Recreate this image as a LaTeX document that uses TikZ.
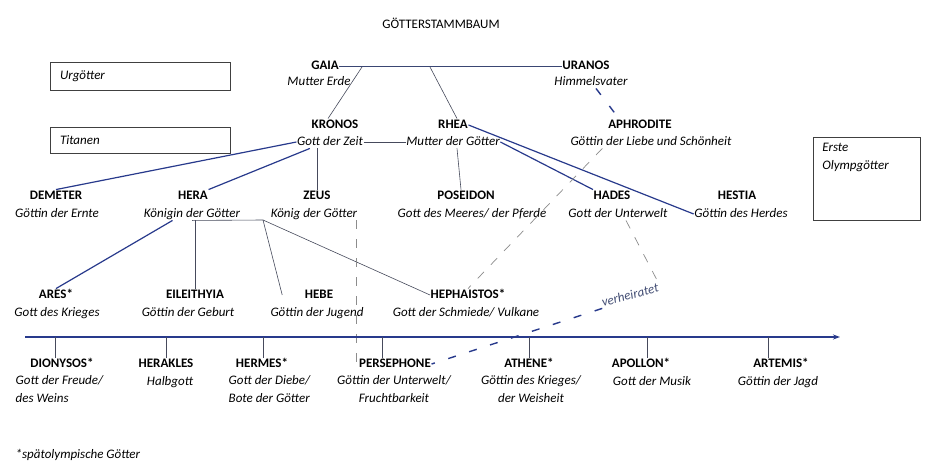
\documentclass[tikz,border=0pt]{standalone}
\usepackage{fontspec}
\setmainfont{Carlito}
\usetikzlibrary{calc,arrows.meta}
\definecolor{ink}{RGB}{40,58,140}
\definecolor{pencil}{RGB}{70,74,92}
\definecolor{penblue}{RGB}{58,70,115}
\begin{document}
\begin{tikzpicture}[x=1pt,y=-1pt,
  nm/.style={font=\fontsize{13}{18}\selectfont\bfseries, inner sep=0.5pt, text height=9pt, text depth=2.5pt},
  ds/.style={font=\fontsize{13}{18}\selectfont\itshape, inner sep=0.5pt, text height=9pt, text depth=2.5pt},
  dsm/.style={font=\fontsize{13}{18}\selectfont\itshape, inner sep=0.5pt},
  boxed/.style={draw=black!75, line width=0.7pt, font=\fontsize{13}{18}\selectfont\itshape, text width=160pt, inner xsep=10pt, align=left},
  pen/.style={draw=pencil, line width=0.6pt},
  blueink/.style={draw=ink, line width=1.2pt},
  gaialine/.style={draw=penblue, line width=1pt},
  greydash/.style={draw=gray!90, line width=0.7pt, dash pattern=on 9pt off 10pt},
  bluedash/.style={draw=ink, line width=1.4pt, dash pattern=on 8pt off 14pt},
]
\useasboundingbox[fill=white] (0,0) rectangle (940,474);

% title and boxes
\node[font=\fontsize{13}{18}\selectfont, inner sep=0.5pt] (title) at (441,23) {GÖTTERSTAMMBAUM};
\node[boxed, minimum height=28pt] (urbox) at (140,76) {Urgötter};
\node[boxed, minimum height=26pt] (titbox) at (140,140) {Titanen};
\node[draw=black!75, line width=0.7pt, minimum width=107pt, minimum height=83pt, inner sep=0pt] (olbox) at (866.5,178.5) {};
\node[dsm, anchor=north west, align=left] (oltext) at ($(olbox.north west)+(9,6)$) {Erste\\Olympgötter};

% row 1
\node[nm] (gaia) at (325,66) {GAIA};
\node[ds] (gaiad) at (319,82) {Mutter Erde};
\node[nm] (uranos) at (586,66) {URANOS};
\node[ds] (uranosd) at (591,82) {Himmelsvater};
% row 2
\node[nm] (kronos) at (335,125) {KRONOS};
\node[ds] (kronosd) at (330,142) {Gott der Zeit};
\node[nm] (rhea) at (453,125) {RHEA};
\node[ds] (rhead) at (453,142) {Mutter der Götter};
\node[nm] (aphrodite) at (640,125) {APHRODITE};
\node[ds] (aphrodited) at (651,142) {Göttin der Liebe und Schönheit};
% row 3
\node[nm] (demeter) at (56,196) {DEMETER};
\node[ds] (demeterd) at (57,214) {Göttin der Ernte};
\node[nm] (hera) at (193,196) {HERA};
\node[ds] (herad) at (192,214) {Königin der Götter};
\node[nm] (zeus) at (317,196) {ZEUS};
\node[ds] (zeusd) at (314,214) {König der Götter};
\node[nm] (poseidon) at (466,196) {POSEIDON};
\node[ds] (poseidond) at (472,214) {Gott des Meeres/ der Pferde};
\node[nm] (hades) at (612,196) {HADES};
\node[ds] (hadesd) at (618,214) {Gott der Unterwelt};
\node[nm] (hestia) at (737,196) {HESTIA};
\node[ds] (hestiad) at (741,214) {Göttin des Herdes};
% row 4
\node[nm] (ares) at (56,295) {ARES*};
\node[ds] (aresd) at (57,313) {Gott des Krieges};
\node[nm] (eil) at (195,295) {EILEITHYIA};
\node[ds] (eild) at (188,313) {Göttin der Geburt};
\node[nm] (hebe) at (319,295) {HEBE};
\node[ds] (hebed) at (317,313) {Göttin der Jugend};
\node[nm] (heph) at (468,295) {HEPHAISTOS*};
\node[ds] (hephd) at (466,313) {Gott der Schmiede/ Vulkane};
% row 5
\node[nm] (dionysos) at (62,364) {DIONYSOS*};
\node[dsm, anchor=north west, align=left] (dionysosd) at (15,375) {Gott der Freude/\\des Weins};
\node[nm] (herakles) at (166,364) {HERAKLES};
\node[ds] (heraklesd) at (170,382) {Halbgott};
\node[nm] (hermes) at (262,364) {HERMES*};
\node[dsm, anchor=north west, align=left] (hermesd) at (228,375) {Gott der Diebe/\\Bote der Götter};
\node[nm] (persephone) at (395,364) {PERSEPHONE};
\node[dsm, anchor=north, align=center] (persephoned) at (394,375) {Göttin der Unterwelt/\\Fruchtbarkeit};
\node[nm] (athene) at (529,364) {ATHENE*};
\node[dsm, anchor=north, align=center] (athened) at (531,375) {Göttin des Krieges/\\der Weisheit};
\node[nm] (apollon) at (641,364) {APOLLON*};
\node[ds] (apollond) at (652,382) {Gott der Musik};
\node[nm] (artemis) at (781,364) {ARTEMIS*};
\node[ds] (artemisd) at (778,382) {Göttin der Jagd};
\node[ds, anchor=west] (foot) at (15,455) {*spätolympische Götter};

% marriage label
\node[font=\fontsize{13}{15}\selectfont\itshape, text=penblue!85!gray, rotate=15, inner sep=1pt] (verh) at (630,295) {verheiratet};

% connectors
\coordinate (g1) at (362,67);
\coordinate (g2) at (430,67);
\draw[gaialine] (gaia.east) -- (uranos.west);
\draw[pen] (g1) -- ($(kronos.north)+(-7,0)$);
\draw[pen] (g2) -- ($(rhea.north)+(4,0)$);
\draw[bluedash] ($(uranosd.south)+(5,0)$) -- ($(aphrodite.north west)!0.35!(aphrodite.north)$);

\draw[pen] (kronosd.east) -- (rhead.west);
\draw[blueink] (kronosd.west) -- (demeter.north);
\draw[blueink] ($(kronosd.south west)!0.2!(kronosd.south east)$) -- (hera.north east);
\draw[pen] (zeus.north) -- (zeus.north |- kronosd.south);
\draw[pen] ($(rhead.south)+(4,0)$) -- ($(poseidon.north)+(-5,0)$);
\draw[blueink] (rhea.east) -- (hestiad.west);
\draw[blueink] (rhead.east) -- (hades.north west);

\draw[blueink] ($(herad.south west)!0.3!(herad.south east)$) -- (ares.north);
\draw[pen] (eil.north) -- (eil.north |- herad.south);
\coordinate (h1) at (263,220);
\draw[pen] (herad.south) -- (h1);
\draw[pen] (h1) -- ($(hebe.west)+(-22,0)$);
\draw[pen] (h1) -- (heph.west);

\draw[greydash] ($(zeusd.south east)+(-2,0)$) -- ($(zeusd.south east |- persephone.south)+(-2,0)$);
\draw[greydash] ($(aphrodited.south west)!0.2!(aphrodited.south east)$) -- (heph.north);
\draw[greydash] ($(hadesd.south)+(8,0)$) -- (verh.north east);
\draw[bluedash] (verh.south west) -- (persephone.east);

% time line
\coordinate (L0) at (25,337);
\coordinate (L1) at (840,337);
\draw[blueink, -{Stealth[length=7pt,width=5pt]}] (L0) -- (L1);
\foreach \nm/\x in {dionysos/55, herakles/166, hermes/263, persephone/382, athene/529, apollon/647, artemis/768} {
  \coordinate (t-\nm) at (\x,337);
  \draw[pen] (t-\nm) -- (t-\nm |- \nm.north);
}
\end{tikzpicture}
\end{document}
